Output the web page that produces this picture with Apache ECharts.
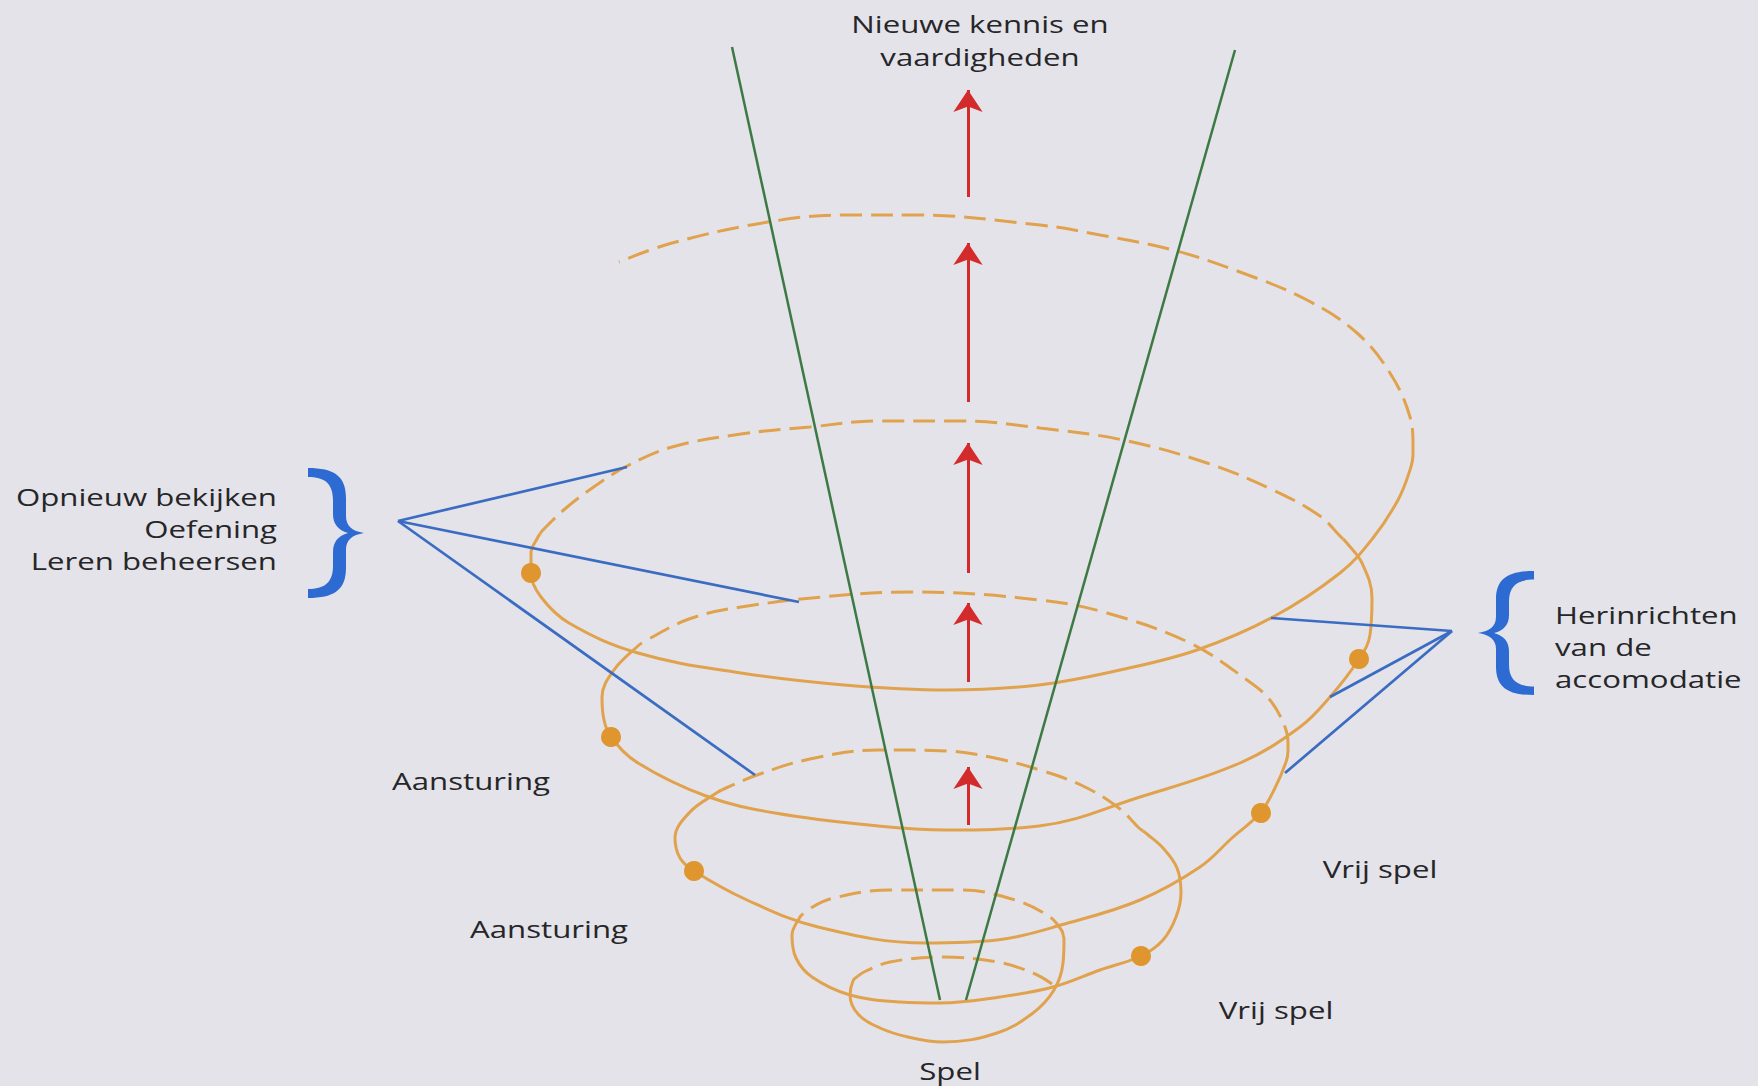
<!DOCTYPE html>
<html>
<head>
<meta charset="utf-8">
<script src="https://cdn.jsdelivr.net/npm/echarts@6/dist/echarts.min.js"></script>
<style>
html,body{margin:0;padding:0;background:#e4e3ea;}
#c{width:1758px;height:1086px;}
</style>
</head>
<body>
<div id="c"></div>
<script>
// ---- spiral (back arcs dashed, front arcs solid) ----
const spiralBack0  = [[1052,984],[1033,973],[997,962],[943,957],[890,962],[864,972],[858,976]];
const spiralFront0 = [[858,976],[853,981],[850,995],[858,1014],[880,1028],[908,1037],[943,1042],[997,1033],[1033,1013],[1054,990],[1063,963],[1064,939],[1063,935]];
const spiralBack1  = [[1063,935],[1062,931],[1050,917],[1015,900],[961,890],[890,890],[830,899],[806,911],[803,914]];
const spiralFront1 = [[803,914],[800,917],[792,935],[796,958],[812,977],[850,995],[900,1002],[940,1003],[1000,997],[1053,987],[1100,970],[1141,956],[1163,940],[1176,917],[1181,893],[1177,868],[1163,848],[1147,834],[1143,831]];
const spiralBack2  = [[1143,831],[1139,828],[1120,809],[1085,787],[1040,770],[990,757],[947,751],[878,750],[810,759],[757,775],[726,788],[722,790]];
const spiralFront2 = [[722,790],[718,792],[690,812],[675,838],[680,858],[694,871],[747,900],[818,927],[926,943],[997,940],[1068,923],[1140,900],[1200,867],[1232,838],[1260,813],[1275,788],[1286,762],[1288,751],[1288,747]];
const spiralBack3  = [[1288,747],[1288,743],[1285,727],[1270,700],[1247,680],[1190,643],[1107,613],[1040,600],[913,592],[844,595],[741,607],[689,619],[645,641],[642,643]];
const spiralFront3 = [[642,643],[639,645],[614,670],[602,697],[604,720],[611,737],[638,763],[706,796],[775,813],[878,826],[947,830],[1039,826],[1140,797],[1240,763],[1300,727],[1330,697],[1359,659],[1370,635],[1372,598],[1362,563],[1346,542],[1343,539]];
const spiralBack4  = [[1343,539],[1339,535],[1320,516],[1273,490],[1207,463],[1123,440],[1040,428],[964,421],[878,421],[810,427],[741,434],[672,447],[627,466],[598,484],[566,508],[542,531],[540,534]];
const spiralFront4 = [[540,534],[538,537],[531,553],[531,573],[541,597],[569,623],[638,653],[741,673],[844,685],[947,690],[1039,685],[1120,670],[1197,650],[1273,617],[1340,573],[1373,538],[1398,500],[1410,470],[1413,454],[1413,450]];
const spiralBack5  = [[1413,450],[1413,446],[1410,417],[1390,373],[1357,333],[1307,300],[1240,272],[1173,250],[1100,235],[1040,225],[913,215],[844,215],[768,222],[672,243],[619,262]];

const spiralDots = [[531,573],[1359,659],[611,737],[1261,813],[694,871],[1141,956]];

// ---- cone (green), growth arrows (red) ----
const coneLeft  = [[732,47],[940,1000]];
const coneRight = [[1235,50],[966,1000]];
const arrowX = 968;
const arrowSpans = [[197,90],[402,243],[573,443],[682,603],[825,767]];

// ---- pointer lines (blue) ----
const leftHub = [398,521];
const leftTargets = [[627,467],[799,602],[755,775]];
const rightHub = [1452,631];
const rightTargets = [[1271,618],[1330,697],[1285,773]];

// ---- braces ----
const braceLeftAt  = [336,533];
const braceRightAt = [1506,633];

// ---- text labels ----
const labelTitle = ['Nieuwe kennis en','vaardigheden'];
const labelLeft  = ['Opnieuw bekijken','Oefening','Leren beheersen'];
const labelRight = ['Herinrichten','van de','accomodatie'];
const labelSteer = ['Aansturing','Aansturing'];
const labelFree  = ['Vrij spel','Vrij spel'];
const labelBase  = 'Spel';

const ORANGE = '#e1a24e';
const DASH = [22, 9];

const segs = [
  [spiralBack0,true],[spiralFront0,false],
  [spiralBack1,true],[spiralFront1,false],
  [spiralBack2,true],[spiralFront2,false],
  [spiralBack3,true],[spiralFront3,false],
  [spiralBack4,true],[spiralFront4,false],
  [spiralBack5,true]
];

const braceRightPath = 'path://M0,0 C26,0 38,8 38,30 L38,48 C38,58 44,63 56,65 C44,67 38,72 38,82 L38,100 C38,122 26,130 0,130 L0,121 C16,121 25,115 25,98 L25,84 C25,74 30,68 40,65 C30,62 25,56 25,46 L25,32 C25,15 16,9 0,9 Z';
const braceLeftPath  = 'path://M56,0 C30,0 18,8 18,30 L18,48 C18,58 12,63 0,65 C12,67 18,72 18,82 L18,100 C18,122 30,130 56,130 L56,121 C40,121 31,115 31,98 L31,84 C31,74 26,68 16,65 C26,62 31,56 31,46 L31,32 C31,15 40,9 56,9 Z';

const series = [];
segs.forEach(function(s){
  series.push({
    type:'line', data:s[0], smooth:0.38, symbol:'none', silent:true, z:2,
    lineStyle:{color:ORANGE, width:3, type: s[1] ? DASH : 'solid', cap:'butt'}
  });
});
series.push({
  type:'lines', coordinateSystem:'cartesian2d', z:3, silent:true,
  lineStyle:{color:'#3d7a43', width:2.5, opacity:1, curveness:0},
  data:[{coords:coneLeft},{coords:coneRight}]
});
series.push({
  type:'lines', coordinateSystem:'cartesian2d', z:4, silent:true,
  symbol:['none','arrow'], symbolSize:[6,22],
  lineStyle:{color:'#d32b2b', width:3, opacity:1, curveness:0},
  data: arrowSpans.map(function(s){ return {coords:[[arrowX,s[0]],[arrowX,s[1]]]}; })
});
series.push({
  type:'lines', coordinateSystem:'cartesian2d', z:4, silent:true,
  lineStyle:{color:'#3a6cc2', width:2.7, opacity:1, curveness:0},
  data: leftTargets.map(function(t){return {coords:[leftHub,t]};})
      .concat(rightTargets.map(function(t){return {coords:[rightHub,t]};}))
});
series.push({
  type:'scatter', data:spiralDots, symbol:'circle', symbolSize:20, z:5, silent:true,
  itemStyle:{color:'#df962f', opacity:1}
});
series.push({
  type:'scatter', z:5, silent:true, symbolKeepAspect:false,
  itemStyle:{color:'#2d6bd3', opacity:1},
  data:[
    {value:braceLeftAt, symbol:braceRightPath, symbolSize:[56,130]},
    {value:braceRightAt, symbol:braceLeftPath, symbolSize:[56,124]}
  ]
});

const chart = echarts.init(document.getElementById('c'), null, {renderer:'svg', width:1758, height:1086});
chart.setOption({
  backgroundColor:'#e4e3ea',
  animation:false,
  grid:{left:0,right:0,top:0,bottom:0},
  xAxis:{type:'value', min:0, max:1758, show:false},
  yAxis:{type:'value', min:0, max:1086, inverse:true, show:false},
  series:series
});

function txt(str, at, align){
  const p = chart.convertToPixel({gridIndex:0}, at);
  return {
    type:'text', x:p[0], y:p[1], scaleX:1.3, scaleY:1, z:10, silent:true,
    style:{text:str, font:'24px "Open Sans"', fill:'#262628',
      align:align, verticalAlign:'middle', textAlign:align, textVerticalAlign:'middle'}
  };
}
const g = [];
g.push(txt(labelTitle[0],[980,24],'center'));
g.push(txt(labelTitle[1],[980,57],'center'));
g.push(txt(labelLeft[0],[277,497],'right'));
g.push(txt(labelLeft[1],[277,529],'right'));
g.push(txt(labelLeft[2],[277,561],'right'));
g.push(txt(labelRight[0],[1555,615],'left'));
g.push(txt(labelRight[1],[1555,647],'left'));
g.push(txt(labelRight[2],[1555,679],'left'));
g.push(txt(labelSteer[0],[471,781],'center'));
g.push(txt(labelSteer[1],[549,929],'center'));
g.push(txt(labelFree[0],[1380,869],'center'));
g.push(txt(labelFree[1],[1276,1010],'center'));
g.push(txt(labelBase,[950,1071],'center'));
chart.setOption({graphic:{elements:g}});
</script>
</body>
</html>
